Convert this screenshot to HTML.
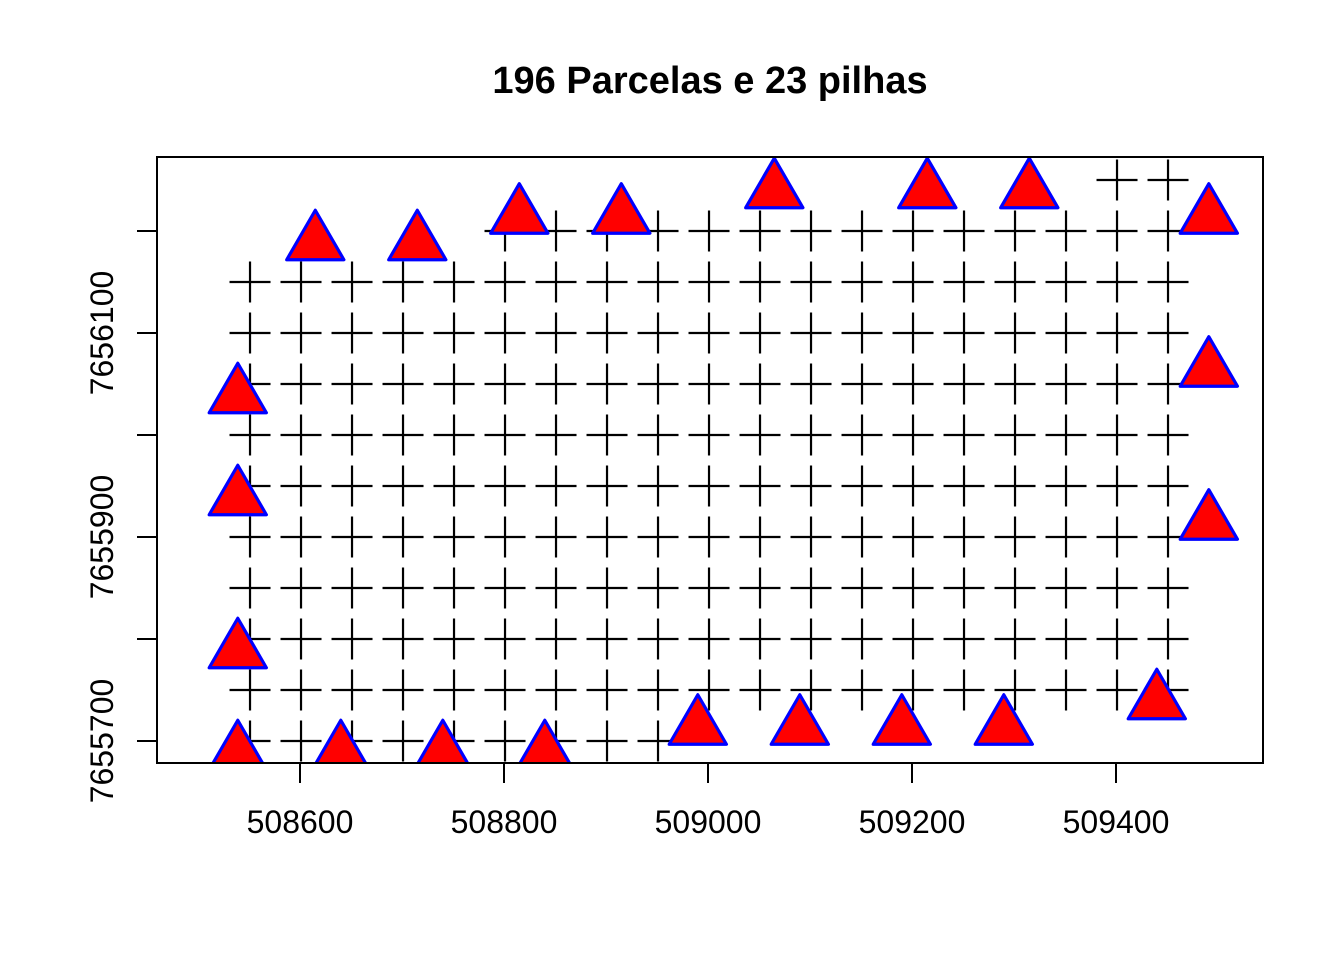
<!DOCTYPE html>
<html><head><meta charset="utf-8"><style>body{margin:0;background:#fff}svg{display:block}</style></head>
<body>
<svg id="chart" width="1344" height="960" xmlns="http://www.w3.org/2000/svg" font-family="Liberation Sans, Arial, sans-serif">
<defs><clipPath id="pc"><rect x="157" y="157" width="1106" height="606"/></clipPath></defs>
<text x="710" y="93" text-anchor="middle" font-size="38" font-weight="bold">196 Parcelas e 23 pilhas</text>
<g id="marks" clip-path="url(#pc)"></g>
<g id="axes"></g>
<rect x="157" y="157" width="1106" height="606" fill="none" stroke="#000" stroke-width="2"/>
</svg>
<script>
const xTicks=[508600,508800,509000,509200,509400];
const xTickLabels=["508600","508800","509000","509200","509400"];
const yTicks=[7655700,7655800,7655900,7656000,7656100,7656200];
const yTickLabels=["7655700","","7655900","","7656100",""];
const colStart=508551, colStep=50;
const rowY=[7655700,7655750,7655800,7655850,7655900,7655950,7656000,7656050,7656100,7656150,7656200,7656250];
const rowFirstCol=[0,0,0,0,0,0,0,0,0,0,5,17];
const rowLastCol=[8,18,18,18,18,18,18,18,18,18,18,18];
const pileX=[508615,508715,508815,508915,509065,509215,509315,509491,508539,508539,508539,508539,509491,509491,508640,508740,508840,508990,509090,509190,509290,509440];
const pileY=[7656188,7656188,7656214,7656214,7656239,7656239,7656239,7656214,7656038,7655938,7655788,7655688,7656064,7655914,7655688,7655688,7655688,7655713,7655713,7655713,7655713,7655738];
const sx=v=>300+(v-508600)*1.02;
const sy=v=>741-(v-7655700)*1.02;
const NS="http://www.w3.org/2000/svg";
const marks=document.getElementById('marks'), axes=document.getElementById('axes');
function mk(tag,attrs,parent){const e=document.createElementNS(NS,tag);for(const k in attrs)e.setAttribute(k,attrs[k]);parent.appendChild(e);return e;}
rowY.forEach((yv,r)=>{for(let c=rowFirstCol[r];c<=rowLastCol[r];c++){
  const x=sx(colStart+c*colStep),y=sy(yv);
  const p=mk('path',{d:`M${x-20.5},${y}H${x+20.5}M${x},${y-20.5}V${y+20.5}`,stroke:'#000','stroke-width':2.2,fill:'none'},marks);
  
  
}});
pileX.forEach((xv,i)=>{
  const x=sx(xv),y=sy(pileY[i]),r=33,xc=28.6;
  const t=mk('polygon',{points:`${x},${y-r} ${x+xc},${y+r/2} ${x-xc},${y+r/2}`,fill:'#f00',stroke:'#00f','stroke-width':3.2,'stroke-linejoin':'round'},marks);
  
  
});
xTicks.forEach((v,i)=>{
  const x=sx(v);
  const l=mk('line',{x1:x,x2:x,y1:763,y2:783,stroke:'#000','stroke-width':2},axes);
  
  
  const t=mk('text',{x:x,y:833,'text-anchor':'middle','font-size':32},axes);t.textContent=xTickLabels[i];
  
  
});
yTicks.forEach((v,i)=>{
  const y=sy(v);
  const l=mk('line',{x1:137,x2:157,y1:y,y2:y,stroke:'#000','stroke-width':2},axes);
  
  
  if(yTickLabels[i]){
    const t=mk('text',{x:0,y:0,'text-anchor':'middle','font-size':32,transform:`translate(113,${y}) rotate(-90)`},axes);t.textContent=yTickLabels[i];
    
    
  }
});
</script>
</body></html>
